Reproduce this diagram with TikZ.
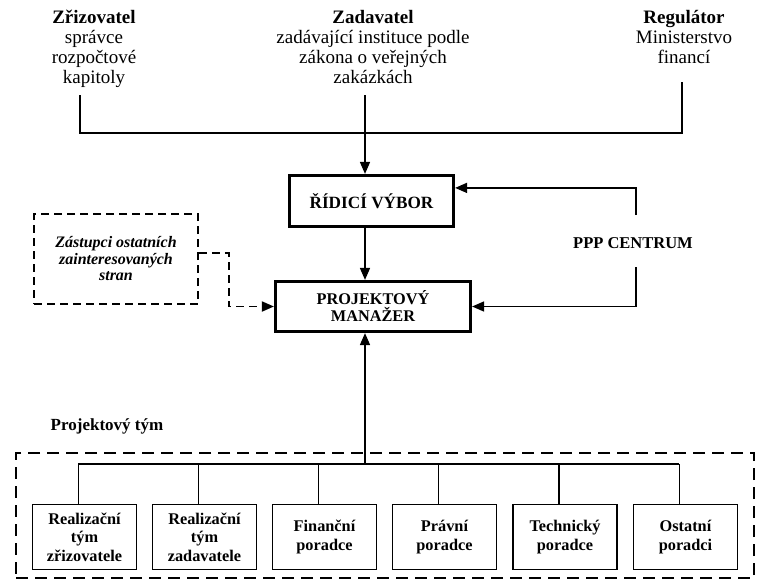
\documentclass[tikz,border=0pt]{standalone}
\usepackage{fontspec}
\setmainfont{Liberation Serif}
\usetikzlibrary{arrows.meta,calc}
\begin{document}
\begin{tikzpicture}[x=1pt,y=-1pt,
  tip/.style={-{Triangle[length=12pt,width=10pt]}},
  conn/.style={line width=1.6pt},
  dashconn/.style={line width=1.8pt,dash pattern=on 8pt off 5pt},
  bigbox/.style={draw,line width=3.2pt,minimum width=164pt,minimum height=51pt,inner sep=0pt,align=center,font=\fontsize{16.3}{17}\selectfont\bfseries},
  teambox/.style={draw,line width=1.8pt,minimum width=104pt,minimum height=65pt,inner sep=0pt,align=center,font=\fontsize{16.3}{18.5}\selectfont\bfseries},
  toptext/.style={align=center,inner sep=0pt,anchor=north,font=\fontsize{19}{20}\selectfont},
  dashbox/.style={draw,line width=1.8pt,dash pattern=on 8pt off 5pt,minimum width=164pt,minimum height=90pt,inner sep=0pt,align=center,font=\fontsize{16}{16.5}\selectfont\bfseries\itshape},
  teamframe/.style={draw,line width=2.4pt,dash pattern=on 12pt off 7pt,minimum width=738pt,minimum height=125pt,inner sep=0pt},
  plain/.style={inner sep=0pt,font=\fontsize{16.5}{18}\selectfont\bfseries}
  ]
\useasboundingbox (0,0) rectangle (764,582);
\fill[white] (0,0) rectangle (764,582);

% top texts
\node[toptext] (zriz) at (94,10) {\textbf{Zřizovatel}\\správce\\rozpočtové\\kapitoly};
\node[toptext] (zad) at (373,10) {\textbf{Zadavatel}\\zadávající instituce podle\\zákona o veřejných\\zakázkách};
\node[toptext] (reg) at (684,10) {\textbf{Regulátor}\\Ministerstvo\\financí};

\coordinate (zrizEnd) at (80,95);
\coordinate (zadEnd) at (365,95);
\coordinate (regEnd) at (682,82);
\coordinate (topL) at (80,133);
\coordinate (topR) at (682,133);

% main boxes
\node[bigbox,font=\fontsize{17.2}{18}\selectfont\bfseries] (vybor) at (371.5,201) {ŘÍDICÍ VÝBOR};
\node[bigbox,minimum width=195pt,minimum height=50pt] (manazer) at (373,306.5) {PROJEKTOVÝ\\MANAŽER};

\draw[conn] (zrizEnd) -- (topL) -- (topR) -- (regEnd);
\draw[conn,tip] (zadEnd) -- (zadEnd |- vybor.north);
\draw[conn,tip] (vybor.south -| zadEnd) -- (manazer.north -| zadEnd);

% PPP centrum
\node[plain] (ppp) at (633,243) {PPP CENTRUM};
\coordinate (pppTop) at (636,215);
\coordinate (pppBot) at (636,267);
\draw[conn,tip] (pppTop) |- ([yshift=-14pt]vybor.north east);
\draw[conn,tip] (pppBot) |- (manazer.east);

% stakeholders
\node[dashbox] (zast) at (116,259) {Zástupci ostatních\\zainteresovaných\\stran};
\draw[dashconn,tip] ([yshift=6pt]zast.east) -- ++(30,0) |- (manazer.west);

% project team
\node[plain,font=\fontsize{17}{18}\selectfont\bfseries] (teamlbl) at (107,426) {Projektový tým};
\node[teamframe] (team) at (385,515.5) {};

\node[teambox] (b1) at (84.5,537) {Realizační\\tým\\zřizovatele};
\node[teambox] (b2) at (204.5,537) {Realizační\\tým\\zadavatele};
\node[teambox] (b3) at (324.5,537) {Finanční\\poradce};
\node[teambox] (b4) at (444.5,537) {Právní\\poradce};
\node[teambox] (b5) at (565,537) {Technický\\poradce};
\node[teambox] (b6) at (685.5,537) {Ostatní\\poradci};

\coordinate (busL) at (78,464);
\coordinate (busR) at (679,464);
\draw[conn] (busL) -- (busR);
\foreach \b in {b1,b2,b3,b4,b5,b6}{
  \draw[conn] ([xshift=-6pt]\b.north) -- ([xshift=-6pt]\b.north |- busL);
}
\draw[conn,tip] (zadEnd |- busL) -- (manazer.south -| zadEnd);
\end{tikzpicture}
\end{document}
